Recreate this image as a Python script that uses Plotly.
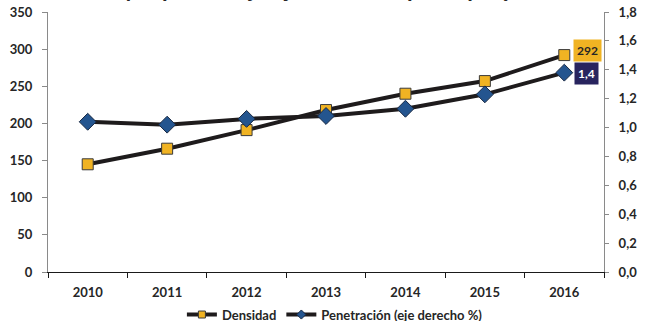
import plotly.graph_objects as go

years = ["2010", "2011", "2012", "2013", "2014", "2015", "2016"]
densidad = [145, 166, 191, 218, 240, 257, 292]
penetracion = [1.04, 1.02, 1.06, 1.08, 1.13, 1.23, 1.38]
left_ticks = [0, 50, 100, 150, 200, 250, 300, 350]
right_ticks = [0.0, 0.2, 0.4, 0.6, 0.8, 1.0, 1.2, 1.4, 1.6, 1.8]

title_text = "(En porcentajes y bolivianos per cápita)"
name_dens = "Densidad"
name_pen = "Penetración (eje derecho %)"

GOLD = "#F0B323"
NAVY_BOX = "#28245E"
BLUE = "#24558F"
LINE = "#1E1B1C"
TXT = "#262626"
FONT = "Lato"
FS = 13

fig = go.Figure()
fig.add_trace(go.Scatter(
    x=years, y=densidad, name=name_dens, mode="lines+markers",
    line=dict(color=LINE, width=4),
    marker=dict(symbol="square", size=11, color=GOLD, line=dict(color="#3a3a3a", width=1)),
    yaxis="y", showlegend=False,
))
fig.add_trace(go.Scatter(
    x=years, y=penetracion, name=name_pen, mode="lines+markers",
    line=dict(color=LINE, width=4),
    marker=dict(symbol="diamond", size=13, color=BLUE, line=dict(color="#1a2a44", width=1)),
    yaxis="y2", showlegend=False,
))
# legend-only entries with small symbols (as in the reference legend)
fig.add_trace(go.Scatter(
    x=[None], y=[None], name=name_dens, mode="lines+markers",
    line=dict(color=LINE, width=4),
    marker=dict(symbol="square", size=7, color=GOLD, line=dict(color="#3a3a3a", width=1)),
    yaxis="y",
))
fig.add_trace(go.Scatter(
    x=[None], y=[None], name=name_pen, mode="lines+markers",
    line=dict(color=LINE, width=4),
    marker=dict(symbol="diamond", size=7, color=BLUE, line=dict(color="#1a2a44", width=1)),
    yaxis="y2",
))

last = len(years) - 1
fig.add_annotation(
    x=last, y=densidad[-1], xref="x", yref="y",
    text=f"<b>{densidad[-1]}</b>", showarrow=False,
    bgcolor=GOLD, font=dict(family=FONT, size=12, color=TXT),
    xshift=23, yshift=5, borderpad=3,
)
fig.add_annotation(
    x=last, y=penetracion[-1], xref="x", yref="y2",
    text="<b>" + f"{penetracion[-1]:.1f}".replace(".", ",") + "</b>", showarrow=False,
    bgcolor=NAVY_BOX, font=dict(family=FONT, size=12, color="white"),
    xshift=22, yshift=-1, borderpad=3,
)
fig.add_annotation(
    x=0.487, y=1.085, xref="paper", yref="paper",
    text=f"<b><i>{title_text}</i></b>", showarrow=False,
    font=dict(family="Liberation Sans", size=20.5, color=TXT),
    xanchor="center", yanchor="middle",
)

fig.update_layout(
    width=647, height=321,
    margin=dict(l=48, r=43, t=12, b=49, autoexpand=False),
    paper_bgcolor="white", plot_bgcolor="white",
    separators=",.",
    font=dict(family=FONT, size=FS, color=TXT),
    showlegend=True,
    legend=dict(
        orientation="h", x=0.516, xanchor="center",
        yref="container", y=0.02, yanchor="middle",
        font=dict(family=FONT, size=FS, color=TXT, weight="bold"),
        itemwidth=30, tracegroupgap=0,
    ),
    xaxis=dict(
        type="category", range=[-0.5, len(years) - 0.5], showgrid=False, zeroline=False,
        automargin=False,
        showline=True, linecolor="#1a1a1a", linewidth=1,
        ticks="outside", ticklen=5, tickcolor="#1a1a1a", tickson="boundaries",
        tickfont=dict(family=FONT, size=FS, color=TXT, weight="bold"),
        ticklabelstandoff=8,
    ),
    yaxis=dict(
        range=[0, 350], tickvals=left_ticks, showgrid=False, zeroline=False,
        automargin=False, ticklabeloverflow="allow",
        showline=True, linecolor="#8a8a8a", linewidth=1,
        ticks="outside", ticklen=5, tickcolor="#8a8a8a",
        tickfont=dict(family=FONT, size=FS, color=TXT, weight="bold"),
        ticklabelstandoff=7,
    ),
    yaxis2=dict(
        range=[0, 1.8], tickvals=right_ticks, tickformat=".1f",
        overlaying="y", side="right", showgrid=False, zeroline=False,
        automargin=False, ticklabeloverflow="allow",
        showline=True, linecolor="#8a8a8a", linewidth=1,
        ticks="outside", ticklen=4, tickcolor="#8a8a8a",
        tickfont=dict(family=FONT, size=FS, color=TXT, weight="bold"),
        ticklabelstandoff=7,
    ),
)

# remove the default 8px page margin so the figure fills the window exactly
fig.write_html(
    "out.html",
    config={"displayModeBar": False},
    post_script="document.body.style.margin='0';",
)
